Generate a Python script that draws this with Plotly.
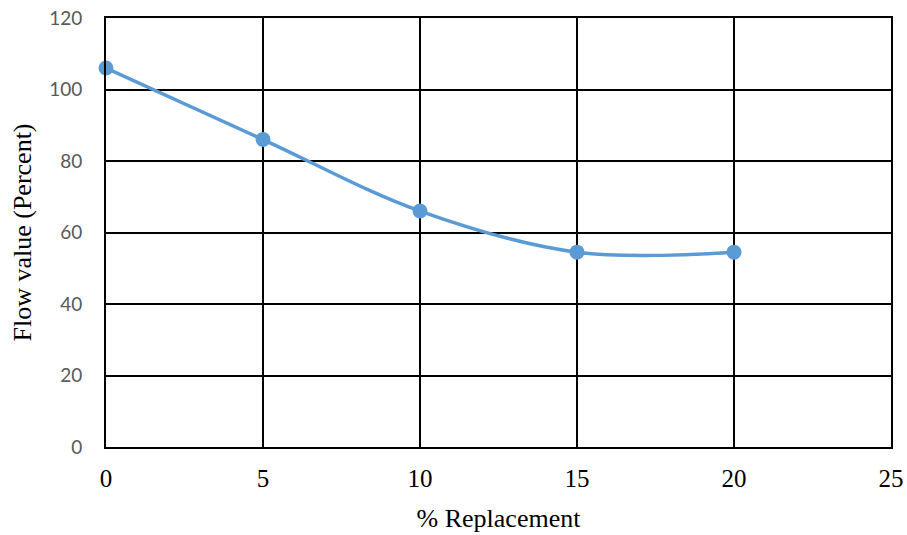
import plotly.graph_objects as go

# Flow value against percentage of replacement
replacement = [0, 5, 10, 15, 20]
flow_value = [106, 86, 66, 54.5, 54.5]

x_ticks = [0, 5, 10, 15, 20, 25]
y_ticks = [0, 20, 40, 60, 80, 100, 120]

blue = "#5B9BD5"
serif = "Liberation Serif, Times New Roman, serif"
sans = "Lato, Open Sans, sans-serif"

fig = go.Figure(
    go.Scatter(
        x=replacement,
        y=flow_value,
        mode="lines+markers",
        line=dict(color=blue, width=3.5, shape="spline", smoothing=1),
        marker=dict(color=blue, size=15),
        cliponaxis=False,
        showlegend=False,
    )
)

fig.update_layout(
    width=907,
    height=535,
    margin=dict(l=106, r=16, t=18, b=88),
    paper_bgcolor="white",
    plot_bgcolor="white",
)

fig.update_xaxes(
    range=[0, 25],
    tickvals=x_ticks,
    automargin=False,
    showgrid=True,
    gridcolor="black",
    gridwidth=2,
    showline=True,
    linecolor="black",
    linewidth=2,
    mirror=True,
    zeroline=False,
    ticks="outside",
    ticklen=8,
    tickcolor="rgba(0,0,0,0)",
    tickfont=dict(family=serif, size=25, color="black"),
    title=dict(text="% Replacement", font=dict(family=serif, size=26, color="black"), standoff=18),
)

fig.update_yaxes(
    range=[0, 120],
    tickvals=y_ticks,
    automargin=False,
    showgrid=True,
    gridcolor="black",
    gridwidth=2,
    showline=True,
    linecolor="black",
    linewidth=2,
    mirror=True,
    zeroline=False,
    ticks="outside",
    ticklen=18,
    tickcolor="rgba(0,0,0,0)",
    tickfont=dict(family=sans, size=19, color="#595959"),
    title=dict(text="Flow value (Percent)", font=dict(family=serif, size=26, color="black"), standoff=10),
)

fig.write_html("out.html")
